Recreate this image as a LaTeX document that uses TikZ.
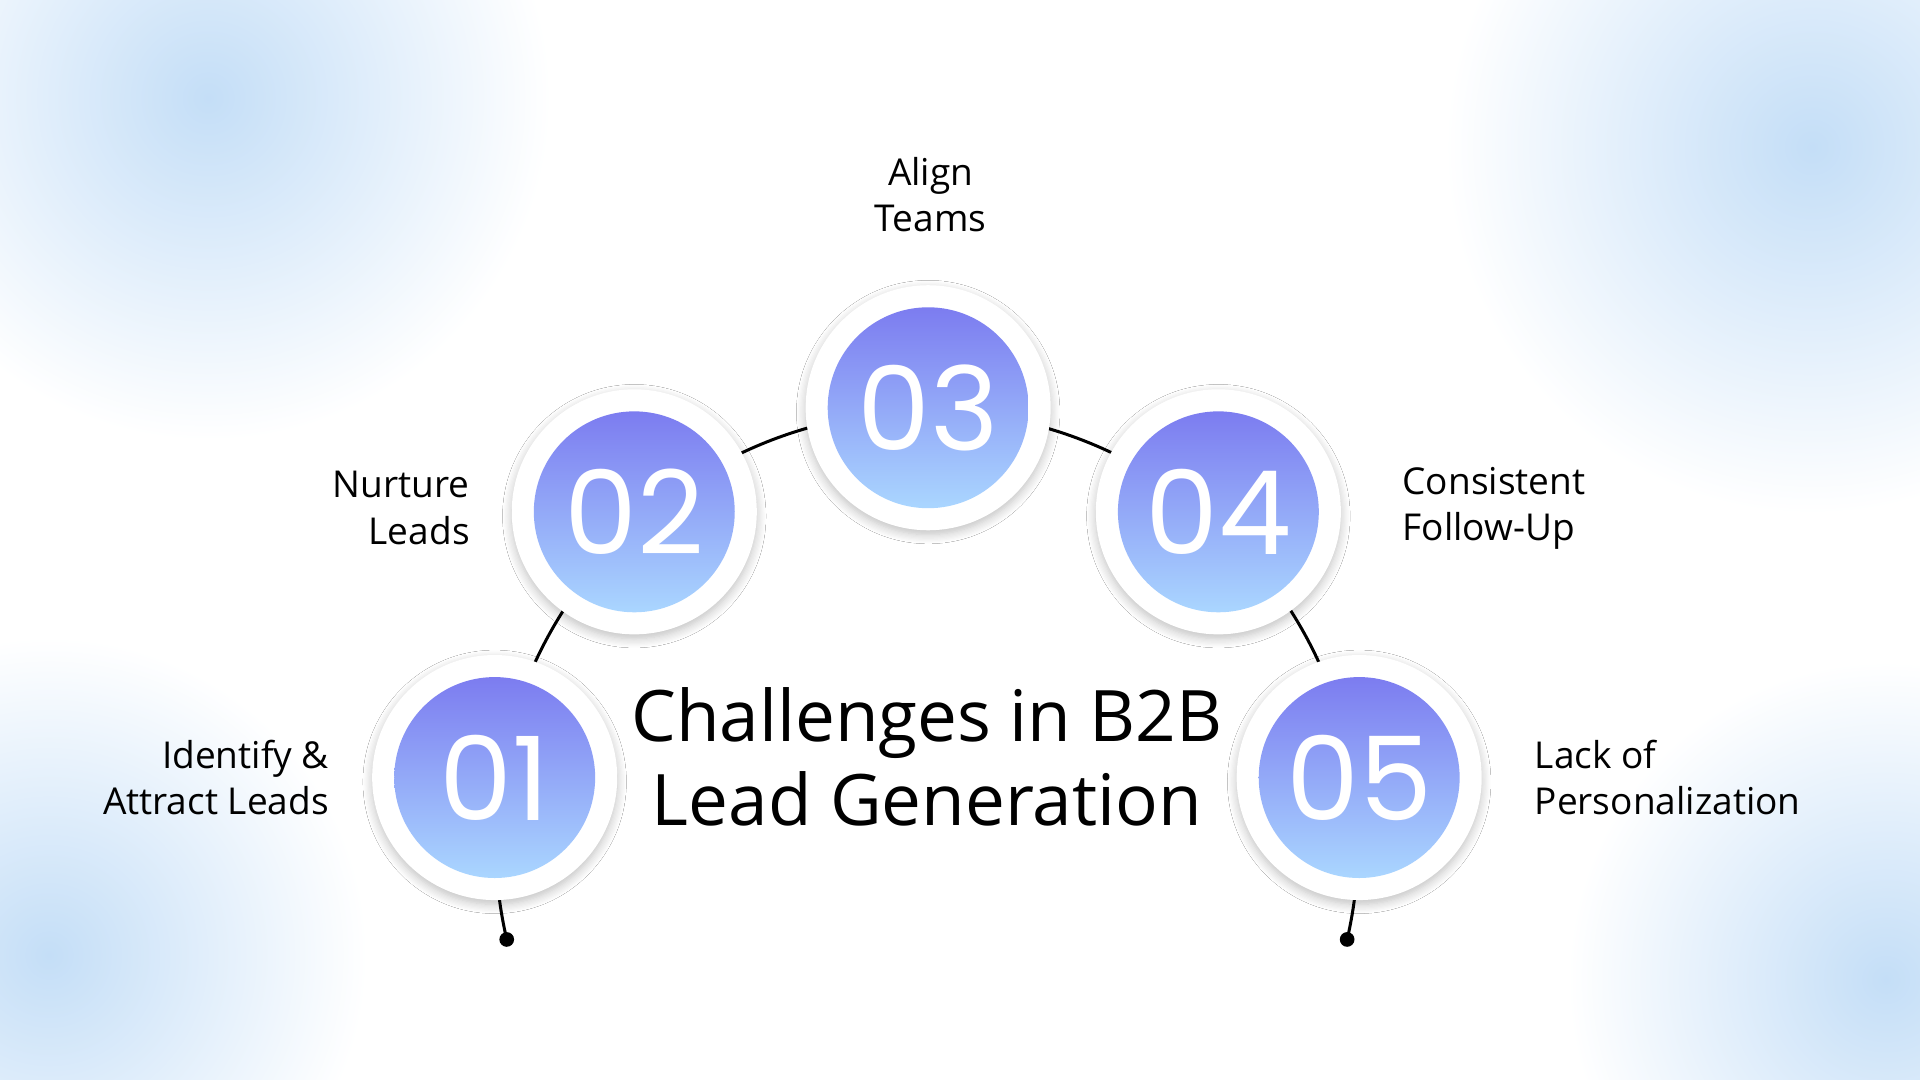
\documentclass[tikz,border=0pt]{standalone}
\usepackage{fontspec}
\setmainfont{Open Sans}
\newfontfamily\numfont{Poppins}
\usetikzlibrary{positioning, shadows.blur}

\definecolor{ctop}{HTML}{7C7CF0}
\definecolor{cbot}{HTML}{AAD6FF}
\definecolor{haze}{HTML}{C4DEF7}

\begin{document}
\begin{tikzpicture}[x=0.01cm, y=-0.01cm,
    ring/.style={circle, fill=white, minimum size=2cm, blur shadow={shadow blur steps=8, shadow xshift=0pt, shadow yshift=-1pt, shadow opacity=25}},
    disc/.style={circle, top color=ctop, bottom color=cbot, minimum size=1.64cm, font=\numfont\fontsize{27}{27}\selectfont, text=white, inner sep=0pt},
    lbl/.style={font=\fontsize{8.6}{10.8}\selectfont, align=left},
    line/.style={draw=black, line width=0.7pt}
]
\useasboundingbox (0,0) rectangle (1568,882);
% background haze
\begin{scope}
\clip (0,0) rectangle (1568,882);
\fill[white] (0,0) rectangle (1568,882);
\shade[inner color=haze, outer color=white] (170,80) circle (280);
\shade[inner color=haze, outer color=white] (1480,120) circle (300);
\shade[inner color=haze, outer color=white] (40,780) circle (260);
\shade[inner color=haze, outer color=white] (1540,800) circle (260);
\end{scope}
% connecting arc
\coordinate (c) at (757,688);
\draw[line] (c) ++(193:3.52cm) coordinate (e1) arc[start angle=193, end angle=-13, radius=3.52cm] coordinate (e2);
\fill (e1) circle (6);
\fill (e2) circle (6);
% steps
\foreach \n/\x/\y in {01/404/635, 02/518/418, 03/758/333, 04/995/418, 05/1110/635}{
  \node[ring] (r\n) at (\x,\y) {};
  \node[disc] (d\n) at (\x,\y) {\n};
}
\node[lbl, align=right, anchor=east] (t01) at (281,635) {Identify \&\\Attract Leads};
\node[lbl, align=right, anchor=east] (t02) at (396,415) {Nurture\\Leads};
\node[lbl, align=center, anchor=south] (t03) at (760,202) {Align\\Teams};
\node[lbl, anchor=west] (t04) at (1133,415) {Consistent\\Follow-Up};
\node[lbl, anchor=west] (t05) at (1241,635) {Lack of\\Personalization};
\node[font=\fontsize{16.5}{19.5}\selectfont, align=center] (title) at (757,618) {Challenges in B2B\\Lead Generation};
\end{tikzpicture}
\end{document}
